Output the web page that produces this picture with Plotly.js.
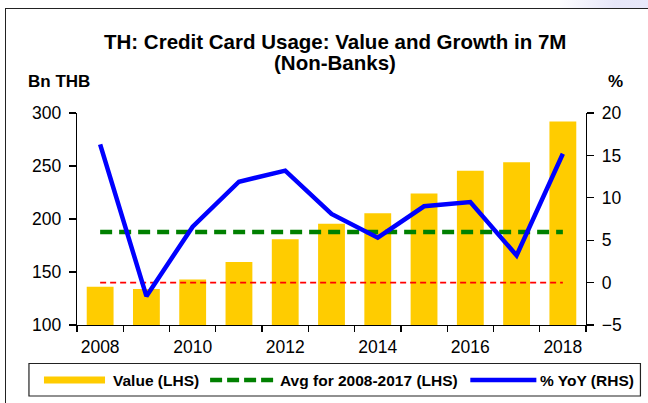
<!DOCTYPE html>
<html>
<head>
<meta charset="utf-8">
<script src="https://cdn.plot.ly/plotly-3.0.1.min.js"></script>
<style>
  html, body { margin: 0; padding: 0; background: #fff; }
  #wrap { position: relative; width: 648px; height: 403px; overflow: hidden; }
  #chart { position: absolute; left: 0; top: 0; width: 648px; height: 403px; }
  #frame { position: absolute; left: 5px; top: 8px; width: 660px; height: 420px;
           border-left: 1.5px solid #222; border-top: 1.5px solid #222; pointer-events: none; }
  #deco { position: absolute; left: 560px; top: -40px; width: 200px; height: 48px;
          background: linear-gradient(100deg, rgba(255,255,255,0) 0%, rgba(228,228,248,0.9) 30%, rgba(236,236,252,0.9) 100%);
          pointer-events: none; }
</style>
</head>
<body>
<div id="wrap">
  <div id="chart"></div>
  <div id="deco"></div>
  <div id="frame"></div>
</div>
<script>
// ---- Data ----
const years = [2008, 2009, 2010, 2011, 2012, 2013, 2014, 2015, 2016, 2017, 2018];
const valueBnTHB = [136, 134, 143, 159.5, 181, 195.5, 205.5, 224, 245.5, 253.5, 292];
const yoyPct = [16.3, -1.6, 6.6, 11.9, 13.2, 8.1, 5.3, 9.0, 9.5, 3.2, 15.2];
const xTickLabels = ['2008', '2010', '2012', '2014', '2016', '2018'];
const avgYears = [2008, 2009, 2010, 2011, 2012, 2013, 2014, 2015, 2016, 2017];

// average of 2008-2017 values
const avgVals = valueBnTHB.filter((v, i) => avgYears.includes(years[i]));
const avgValue = avgVals.reduce((a, b) => a + b, 0) / avgVals.length;
const avgLine = years.map(() => avgValue);
const zeroLine = years.map(() => 0);

// ---- Layout helpers (pixel -> paper) ----
const L = 77, R = 585.6, T = 113, B = 325;
const px = x => (x - L) / (R - L);
const py = y => (B - y) / (B - T);

const FONT = 'Liberation Sans, Arial, sans-serif';

const traces = [
  { type: 'bar', x: years, y: valueBnTHB, yaxis: 'y', width: 0.58,
    marker: { color: '#FFCC00', line: { width: 0 } }, showlegend: false, hoverinfo: 'skip' },
  { type: 'scatter', mode: 'lines', x: years, y: avgLine, yaxis: 'y',
    line: { color: '#008000', width: 4.5, dash: '12px,7px' }, showlegend: false },
  { type: 'scatter', mode: 'lines', x: years, y: zeroLine, yaxis: 'y2',
    line: { color: '#FF0000', width: 1.6, dash: '6px,4px' }, showlegend: false },
  { type: 'scatter', mode: 'lines', x: years, y: yoyPct, yaxis: 'y2',
    line: { color: '#0000FF', width: 4.5 }, showlegend: false }
];

const bounds = years.map(y => y - 0.5).concat([years[years.length - 1] + 0.5]);

const bold = s => '<b>' + s + '</b>';
const lgY = 380;

const layout = {
  width: 648, height: 403,
  margin: { l: L, r: 648 - R, t: T, b: 403 - B, pad: 0 },
  paper_bgcolor: 'rgba(0,0,0,0)', plot_bgcolor: 'rgba(0,0,0,0)',
  font: { family: FONT, color: '#000', size: 17.5 },
  showlegend: false,
  xaxis: {
    type: 'linear', range: [2007.5, 2018.5], fixedrange: true,
    tickvals: xTickLabels.map(Number), ticktext: xTickLabels,
    ticks: 'outside', ticklen: 6, tickcolor: 'rgba(0,0,0,0)',
    showline: true, linecolor: '#000', linewidth: 1.2,
    showgrid: false, zeroline: false,
    tickfont: { size: 17.5 },
    minor: { tickvals: bounds, ticks: 'outside', ticklen: 6, tickcolor: '#000', tickwidth: 1.2, showgrid: false }
  },
  yaxis: {
    range: [100, 300], dtick: 50, tick0: 100, fixedrange: true,
    ticks: 'outside', ticklen: 7, tickcolor: '#000', tickwidth: 1.2,
    showline: true, linecolor: '#000', linewidth: 1.2,
    showgrid: false, zeroline: false, tickfont: { size: 17.5 }, ticklabelstandoff: 4
  },
  yaxis2: {
    range: [-5, 20], dtick: 5, tick0: -5, overlaying: 'y', side: 'right', fixedrange: true,
    ticks: 'outside', ticklen: 7, tickcolor: '#000', tickwidth: 1.2,
    showline: true, linecolor: '#000', linewidth: 1.2,
    showgrid: false, zeroline: false, tickfont: { size: 17.5 }, ticklabelstandoff: 4
  },
  annotations: [
    { text: bold('TH: Credit Card Usage: Value and Growth in 7M'), xref: 'paper', yref: 'paper',
      x: px(334.5), y: py(42), xanchor: 'center', yanchor: 'middle', showarrow: false,
      font: { size: 20.5, family: FONT } },
    { text: bold('(Non-Banks)'), xref: 'paper', yref: 'paper',
      x: px(334.5), y: py(62), xanchor: 'center', yanchor: 'middle', showarrow: false,
      font: { size: 20.5, family: FONT } },
    { text: bold('Bn THB'), xref: 'paper', yref: 'paper', x: px(26), y: py(81),
      xanchor: 'left', yanchor: 'middle', showarrow: false, font: { size: 17, family: FONT } },
    { text: bold('%'), xref: 'paper', yref: 'paper', x: px(606), y: py(81),
      xanchor: 'left', yanchor: 'middle', showarrow: false, font: { size: 17, family: FONT } },
    { text: bold('Value (LHS)'), xref: 'paper', yref: 'paper', x: px(111), y: py(lgY),
      xanchor: 'left', yanchor: 'middle', showarrow: false, font: { size: 15.5, family: FONT } },
    { text: bold('Avg for 2008-2017 (LHS)'), xref: 'paper', yref: 'paper', x: px(278), y: py(lgY),
      xanchor: 'left', yanchor: 'middle', showarrow: false, font: { size: 15.5, family: FONT } },
    { text: bold('% YoY (RHS)'), xref: 'paper', yref: 'paper', x: px(538), y: py(lgY),
      xanchor: 'left', yanchor: 'middle', showarrow: false, font: { size: 15.5, family: FONT } }
  ],
  shapes: [
    { type: 'rect', xref: 'paper', yref: 'paper', x0: px(29), x1: px(640), y0: py(396), y1: py(363.5),
      line: { color: '#222', width: 1.2 }, fillcolor: 'rgba(0,0,0,0)' },
    { type: 'rect', xref: 'paper', yref: 'paper', x0: px(44), x1: px(105), y0: py(383.5), y1: py(376.5),
      line: { width: 0 }, fillcolor: '#FFCC00' },
    { type: 'line', xref: 'paper', yref: 'paper', x0: px(210), x1: px(274), y0: py(lgY), y1: py(lgY),
      line: { color: '#008000', width: 4.5, dash: '12px,5px' } },
    { type: 'line', xref: 'paper', yref: 'paper', x0: px(470), x1: px(536), y0: py(lgY), y1: py(lgY),
      line: { color: '#0000FF', width: 4.5 } }
  ]
};

Plotly.newPlot('chart', traces, layout, { staticPlot: true, displayModeBar: false });
</script>
</body>
</html>
